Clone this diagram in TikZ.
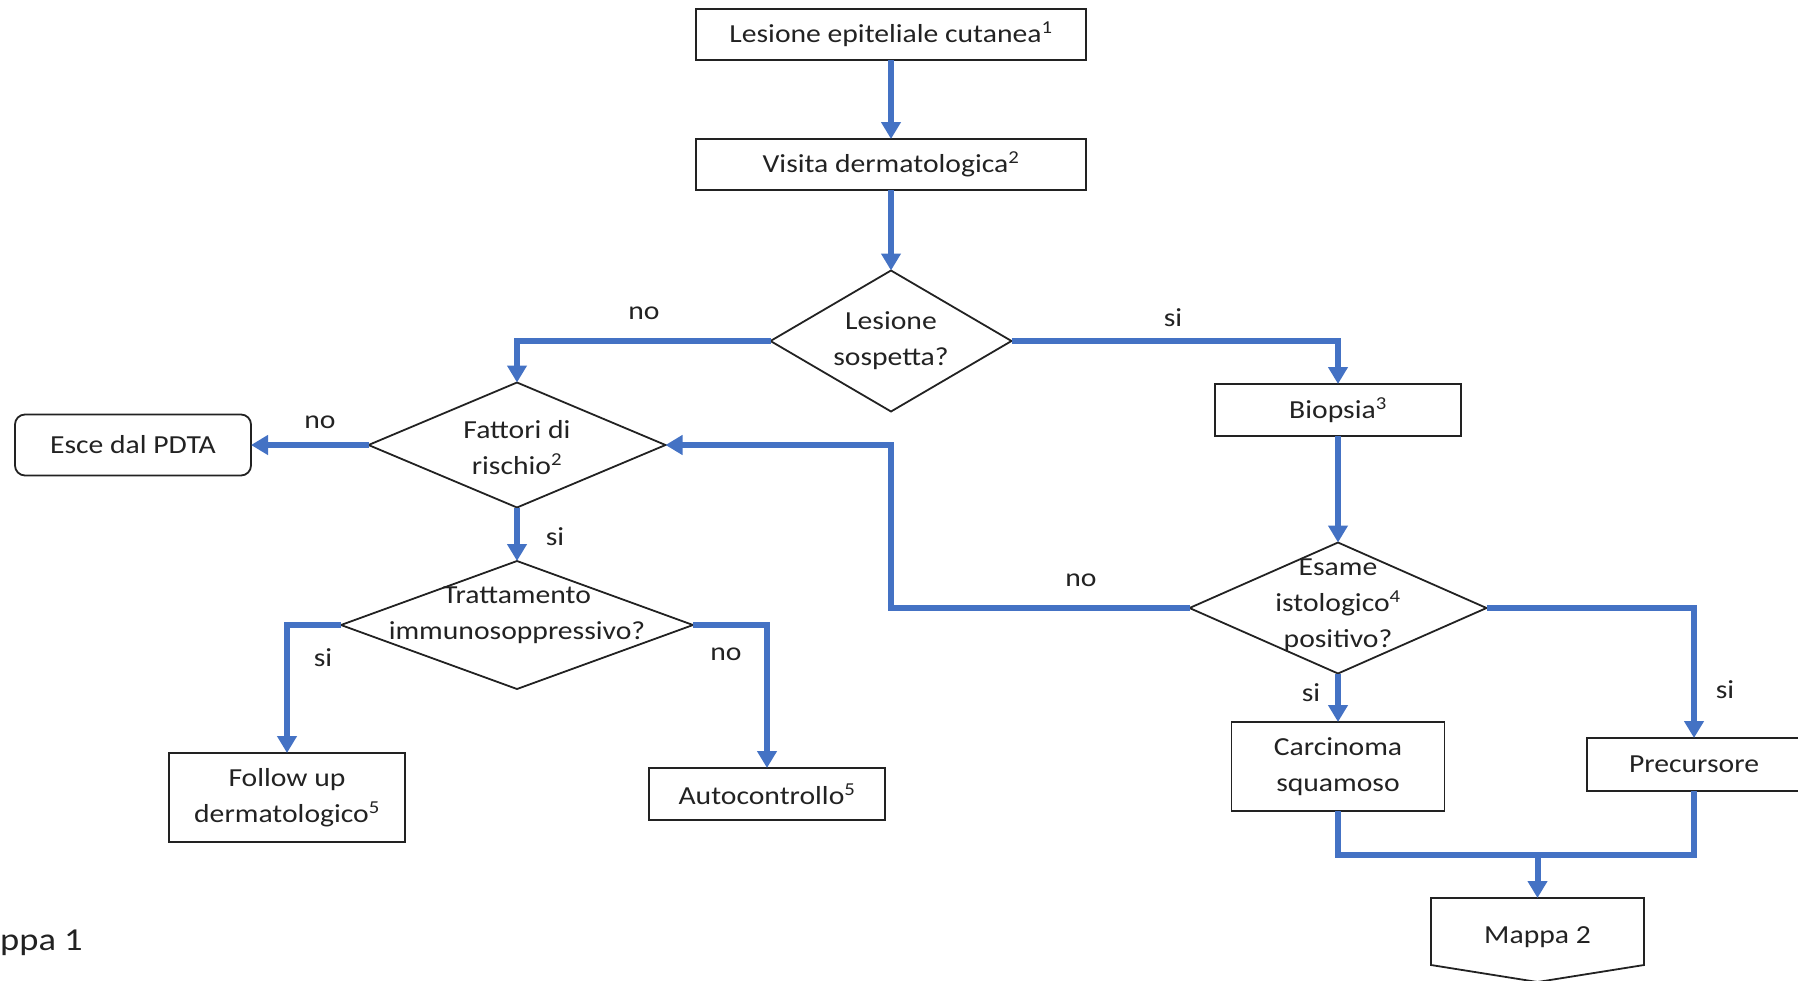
\documentclass[tikz,border=0pt]{standalone}
\usepackage{fontspec}
\setmainfont{Carlito}[FakeStretch=1.14]
\usetikzlibrary{arrows.meta,shapes.geometric}
\definecolor{flowblue}{RGB}{68,114,196}
\definecolor{ink}{RGB}{34,34,34}

\begin{document}
\begin{tikzpicture}[x=1pt,y=-1pt,
  font=\fontsize{26}{36}\selectfont, text=ink,
  box/.style 2 args={draw=ink, line width=1.8pt, rectangle, minimum width=#1,
    minimum height=#2, inner sep=0pt, outer sep=0pt, align=center},
  decision/.style 2 args={draw=ink, line width=1.8pt, diamond, minimum width=#1,
    minimum height=#2, inner sep=0pt, outer sep=0pt},
  dtext/.style={align=center, inner sep=0pt},
  flow/.style={draw=flowblue, line width=6pt},
  arrow/.style={flow, -{Triangle[length=17pt,width=19pt]}},
  lbl/.style={inner sep=0pt},
  offpage/.style={rectangle, minimum width=213pt, minimum height=67pt,
    inner sep=0pt, outer sep=0pt},
  outline/.style={draw=ink, line width=1.8pt},
]
\useasboundingbox (0,0) rectangle (1798,980);

% process boxes
\node[box={390pt}{51pt}] (les) at (891,34.5) {Lesione epiteliale cutanea\textsuperscript{1}};
\node[box={390pt}{51pt}] (vis) at (891,164.5) {Visita dermatologica\textsuperscript{2}};
\node[box={246pt}{52pt}] (bio) at (1338,410) {Biopsia\textsuperscript{3}};
\node[box={236pt}{61pt}, rounded corners=10pt] (esce) at (133,445) {Esce dal PDTA};
\node[box={236pt}{89pt}] (fol) at (287,797.5) {Follow up\\dermatologico\textsuperscript{5}};
\node[box={236pt}{52pt}] (auto) at (767,794) {Autocontrollo\textsuperscript{5}};
\node[box={213pt}{89pt}] (car) at (1338,766.5) {Carcinoma\\squamoso};
\node[box={214pt}{53pt}] (pre) at (1694,764.5) {Precursore};

% off-page connector
\node[offpage] (m2) at (1537.5,931.5) {};
\node[dtext] (m2t) at ([yshift=-6pt]m2.center) {Mappa 2};
\draw[outline] (m2.north west) -- (m2.north east) -- (m2.south east)
  -- ([yshift=-17pt]m2.south) -- (m2.south west) -- cycle;

% decisions
\node[decision={241pt}{141pt}] (d1) at (891,341) {};
\node[dtext] (d1t) at (d1) {Lesione\\sospetta?};
\node[decision={297pt}{125pt}] (d2) at (517,445) {};
\node[dtext] (d2t) at ([yshift=-3pt]d2.center) {Fattori di\\rischio\textsuperscript{2}};
\node[decision={352pt}{128pt}] (d3) at (517,625) {};
\node[dtext] (d3t) at ([yshift=10pt]d3.center) {Trattamento\\immunosoppressivo?};
\node[decision={297pt}{131pt}] (d4) at (1338,608) {};
\node[dtext] (d4t) at ([yshift=3pt]d4.center) {Esame\\istologico\textsuperscript{4}\\positivo?};

% connectors
\draw[arrow] (les.south) -- (vis.north);
\draw[arrow] (vis.south) -- (d1.north);
\draw[arrow] (d1.west) -| (d2.north);
\draw[arrow] (d1.east) -| (bio.north);
\draw[arrow] (d2.west) -- (esce.east);
\draw[arrow] (d2.south) -- (d3.north);
\draw[arrow] (d3.west) -| (fol.north);
\draw[arrow] (d3.east) -| (auto.north);
\draw[arrow] (bio.south) -- (d4.north);
\draw[arrow] (d4.west) -- (d4.west -| d1.south) |- (d2.east);
\draw[arrow] (d4.east) -| (pre.north);
\draw[arrow] (d4.south) -- (car.north);
\coordinate (join) at (1537.5,855);
\draw[flow] (car.south) |- (join) -| (pre.south);
\draw[arrow] (join) -- (m2.north);

% branch labels
\node[lbl] (l1) at (644,313) {no};
\node[lbl] (l2) at (1173,318) {si};
\node[lbl] (l3) at (320,422) {no};
\node[lbl] (l4) at (555,537) {si};
\node[lbl] (l5) at (323,658) {si};
\node[lbl] (l6) at (726,654) {no};
\node[lbl] (l7) at (1081,580) {no};
\node[lbl] (l8) at (1725,690) {si};
\node[lbl] (l9) at (1311,693) {si};

% page title
\node[lbl, anchor=west, font=\fontsize{32}{38}\selectfont] (title) at (0,943) {ppa 1};
\end{tikzpicture}
\end{document}
